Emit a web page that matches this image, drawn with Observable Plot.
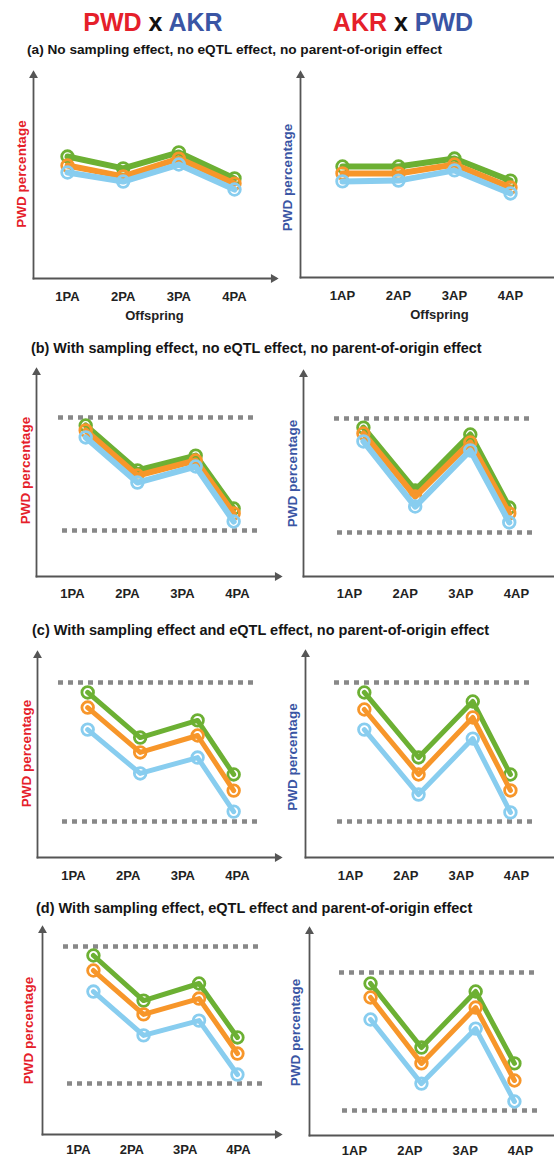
<!DOCTYPE html>
<html><head><meta charset="utf-8">
<script src="https://cdn.jsdelivr.net/npm/d3@7"></script>
<script src="https://cdn.jsdelivr.net/npm/@observablehq/plot@0.6"></script>
<style>
body{margin:0;background:#fff;}
#page{position:relative;width:554px;height:1157px;overflow:hidden;font-family:"Liberation Sans",Arial,sans-serif;background:#fff;}
.hdr{position:absolute;font-size:25px;font-weight:bold;text-align:center;width:220px;line-height:25px;white-space:nowrap;}
.sub{position:absolute;font-weight:bold;white-space:nowrap;color:#151515;}
.panel{position:absolute;}
</style></head><body><div id="page"></div>
<script>
// ---------- data ----------
const offspringPA = ["1PA", "2PA", "3PA", "4PA"];
const offspringAP = ["1AP", "2AP", "3AP", "4AP"];
const seriesNames = ["upper", "middle", "lower"];
const seriesColors = ["#6cb033", "#f7962a", "#88cdef"];

const headerLeft = [["PWD", "red"], [" x ", "black"], ["AKR", "blue"]];
const headerRight = [["AKR", "red"], [" x ", "black"], ["PWD", "blue"]];
const subtitles = [
  "(a) No sampling effect, no eQTL effect, no parent-of-origin effect",
  "(b) With sampling effect, no eQTL effect, no parent-of-origin effect",
  "(c) With sampling effect and eQTL effect, no parent-of-origin effect",
  "(d) With sampling effect, eQTL effect and parent-of-origin effect"
];
const yLabel = "PWD percentage";
const xLabel = "Offspring";

// PWD percentage (0 = x axis, 100 = arrow tip); rows = upper, middle, lower series
const aPA = [[59.5, 53.7, 61.5, 48.8], [55.1, 49.8, 58.5, 46.3], [51.7, 47.3, 55.6, 43.4]];
const aPAx = [1, 2, 3, 4];
const aAP = [[54.4, 54.4, 58.3, 47.5], [51.0, 51.0, 55.4, 44.1], [47.1, 47.5, 52.5, 41.2]];
const aAPx = [1, 2, 3, 4];

const bPA = [[73.3, 51.5, 58.7, 33.0], [70.9, 49.0, 56.3, 30.6], [67.5, 45.6, 53.4, 26.7]];
const bPAx = [1.24, 2.18, 3.24, 3.93];
const bPAlim = [77.2, 22.3];
const bAP = [[73.0, 42.2, 69.6, 33.8], [70.1, 39.2, 65.7, 30.9], [66.2, 34.3, 61.8, 26.5]];
const bAPx = [1.25, 2.18, 3.17, 3.87];
const bAPlim = [77.5, 21.6];

const cPA = [[80.9, 58.8, 67.2, 40.7], [73.5, 51.5, 59.8, 32.8], [62.7, 41.2, 49.0, 22.5]];
const cPAx = [1.26, 2.22, 3.27, 3.93];
const cPAlim = [85.8, 17.6];
const cAP = [[80.5, 48.8, 76.1, 40.5], [72.2, 40.5, 68.3, 32.7], [62.4, 30.7, 58.0, 22.0]];
const cAPx = [1.25, 2.23, 3.21, 3.89];
const cAPlim = [85.4, 17.6];

const dPA = [[86.9, 65.0, 73.3, 47.1], [79.6, 58.3, 66.0, 39.3], [69.4, 48.1, 55.3, 29.1]];
const dPAx = [1.28, 2.22, 3.26, 3.98];
const dPAlim = [91.3, 24.8];
const dAP = [[73.8, 42.7, 69.9, 35.0], [67.0, 35.0, 62.1, 26.7], [56.3, 25.2, 51.9, 16.5]];
const dAPx = [1.29, 2.21, 3.19, 3.89];
const dAPlim = [79.1, 12.1];

// ---------- styles / layout ----------
const RED = "#e5202a", BLUE = "#3a55a4", AXIS = "#555555", DOTTED = "#888888";
const nameColor = {red: RED, blue: BLUE, black: "#111"};

const panels = [
  {vals: aPA, xs: aPAx, cats: offspringPA, lim: null, side: "L", left: 0, top: 62, width: 280, height: 270, ml: 33, mt: 11, mb: 54, mr: 5, xr: [67, 234], pad: 13.5, lw: 6, showX: true, xdx: 0, ydx: -12, ydy: -2, insets: null},
  {vals: aAP, xs: aAPx, cats: offspringAP, lim: null, side: "R", left: 277, top: 62, width: 277, height: 270, ml: 23, mt: 11, mb: 55, mr: 0, xr: [65, 233], pad: 13.5, lw: 6, showX: true, xdx: 12, ydx: -13, ydy: 2, insets: null},
  {vals: bPA, xs: bPAx, cats: offspringPA, lim: bPAlim, side: "L", left: 0, top: 362, width: 282, height: 245, ml: 36, mt: 8, mb: 31, mr: 3, xr: [72, 237], pad: 12, lw: 6, showX: false, ydx: -11, ydy: -3, insets: [[22, 24], [26, 21]]},
  {vals: bAP, xs: bAPx, cats: offspringAP, lim: bAPlim, side: "R", left: 277, top: 362, width: 277, height: 245, ml: 26, mt: 10, mb: 31, mr: 0, xr: [72, 239], pad: 12, lw: 6, showX: false, ydx: -11, ydy: -1, insets: [[31, 24], [34, 20]]},
  {vals: cPA, xs: cPAx, cats: offspringPA, lim: cPAlim, side: "L", left: 0, top: 644, width: 282, height: 245, ml: 37, mt: 9, mb: 32, mr: 3, xr: [73, 237], pad: 13, lw: 5, showX: false, ydx: -11, ydy: -2, insets: [[21, 22], [25, 21]]},
  {vals: cAP, xs: cAPx, cats: offspringAP, lim: cAPlim, side: "R", left: 277, top: 644, width: 277, height: 245, ml: 28, mt: 8, mb: 32, mr: 0, xr: [73, 239], pad: 13, lw: 5, showX: false, ydx: -13, ydy: 2, insets: [[29, 22], [32, 19]]},
  {vals: dPA, xs: dPAx, cats: offspringPA, lim: dPAlim, side: "L", left: 0, top: 920, width: 282, height: 237, ml: 42, mt: 8, mb: 23, mr: 3, xr: [78, 238], pad: 10.5, lw: 5, showX: false, ydx: -14, ydy: -1, insets: [[21, 19], [25, 16]]},
  {vals: dAP, xs: dAPx, cats: offspringAP, lim: dAPlim, side: "R", left: 277, top: 920, width: 277, height: 237, ml: 32, mt: 9, mb: 22, mr: 0, xr: [77, 243], pad: 10.5, lw: 5, showX: false, ydx: -14, ydy: 0, insets: [[30, 19], [33, 15]]}
];
// [left, baseline, font size]
const subPos = [[27, 55, 13.65], [31, 353, 14.4], [32, 635, 14.5], [36, 913, 14.5]];

const page = document.getElementById("page");

function header(parts, centerX) {
  const d = document.createElement("div");
  d.className = "hdr";
  d.style.left = (centerX - 110) + "px";
  d.style.top = "10px";
  parts.forEach(([t, c]) => {
    const s = document.createElement("span");
    s.textContent = t;
    s.style.color = nameColor[c];
    d.appendChild(s);
  });
  page.appendChild(d);
}
header(headerLeft, 153);
header(headerRight, 403);

subtitles.forEach((t, i) => {
  const [x, base, fs] = subPos[i];
  const d = document.createElement("div");
  d.className = "sub";
  d.textContent = t;
  d.style.fontSize = fs + "px";
  d.style.lineHeight = fs + "px";
  d.style.left = x + "px";
  // baseline offset for Liberation Sans with line-height = font size
  d.style.top = (base - fs * (0.905 - (1.117 - 1) / 2)) + "px";
  page.appendChild(d);
});

panels.forEach(p => {
  const marks = [];
  if (p.lim) {
    p.lim.forEach((v, k) => {
      marks.push(Plot.ruleY([v], {stroke: DOTTED, strokeWidth: 4.5, strokeDasharray: "5,5", insetLeft: p.insets[k][0], insetRight: p.insets[k][1]}));
    });
  }
  marks.push(Plot.frame({anchor: "left", stroke: AXIS, strokeWidth: 1.8}));
  marks.push(Plot.frame({anchor: "bottom", stroke: AXIS, strokeWidth: 1.8}));
  marks.push(Plot.dot([0], {frameAnchor: "top-left", symbol: "triangle", r: 3.3, fill: AXIS, stroke: null, dy: 2}));
  if (p.side === "L") marks.push(Plot.dot([0], {frameAnchor: "bottom-right", symbol: "triangle", r: 3.3, fill: AXIS, stroke: null, rotate: 90, dx: -2}));
  p.vals.forEach((row, s) => {
    const rows = row.map((v, i) => ({x: p.xs[i], y: v, s: seriesNames[s]}));
    marks.push(Plot.line(rows, {x: "x", y: "y", stroke: seriesColors[s], strokeWidth: p.lw, strokeLinejoin: "round", strokeLinecap: "round"}));
    marks.push(Plot.dot(rows, {x: "x", y: "y", r: 5.8, stroke: seriesColors[s], strokeWidth: 2.8, fill: "none"}));
  });
  marks.push(Plot.axisX({ticks: [1, 2, 3, 4], tickFormat: d => p.cats[d - 1], tickSize: 0, tickPadding: p.pad, fontSize: 13, fontWeight: "bold", label: null}));
  marks.push(Plot.text([yLabel], {text: d => d, frameAnchor: "left", textAnchor: "middle", lineAnchor: "middle", rotate: -90, dx: p.ydx, dy: p.ydy, fill: p.side === "L" ? RED : BLUE, fontSize: 13.5, fontWeight: "bold"}));
  if (p.showX) marks.push(Plot.text([xLabel], {text: d => d, frameAnchor: "bottom", dy: 41, dx: p.xdx, fontSize: 13, fontWeight: "bold", fill: "#222"}));

  const chart = Plot.plot({
    width: p.width, height: p.height,
    marginLeft: p.ml, marginRight: p.mr, marginTop: p.mt, marginBottom: p.mb,
    x: {type: "linear", domain: [1, 4], range: p.xr},
    y: {domain: [0, 100], axis: null},
    style: {background: "transparent", overflow: "visible", color: "#222", fontFamily: "Liberation Sans, Arial, sans-serif"},
    marks
  });
  const wrap = document.createElement("div");
  wrap.className = "panel";
  wrap.style.left = p.left + "px";
  wrap.style.top = p.top + "px";
  wrap.style.width = p.width + "px";
  wrap.appendChild(chart);
  page.appendChild(wrap);
});
</script>
</body></html>
